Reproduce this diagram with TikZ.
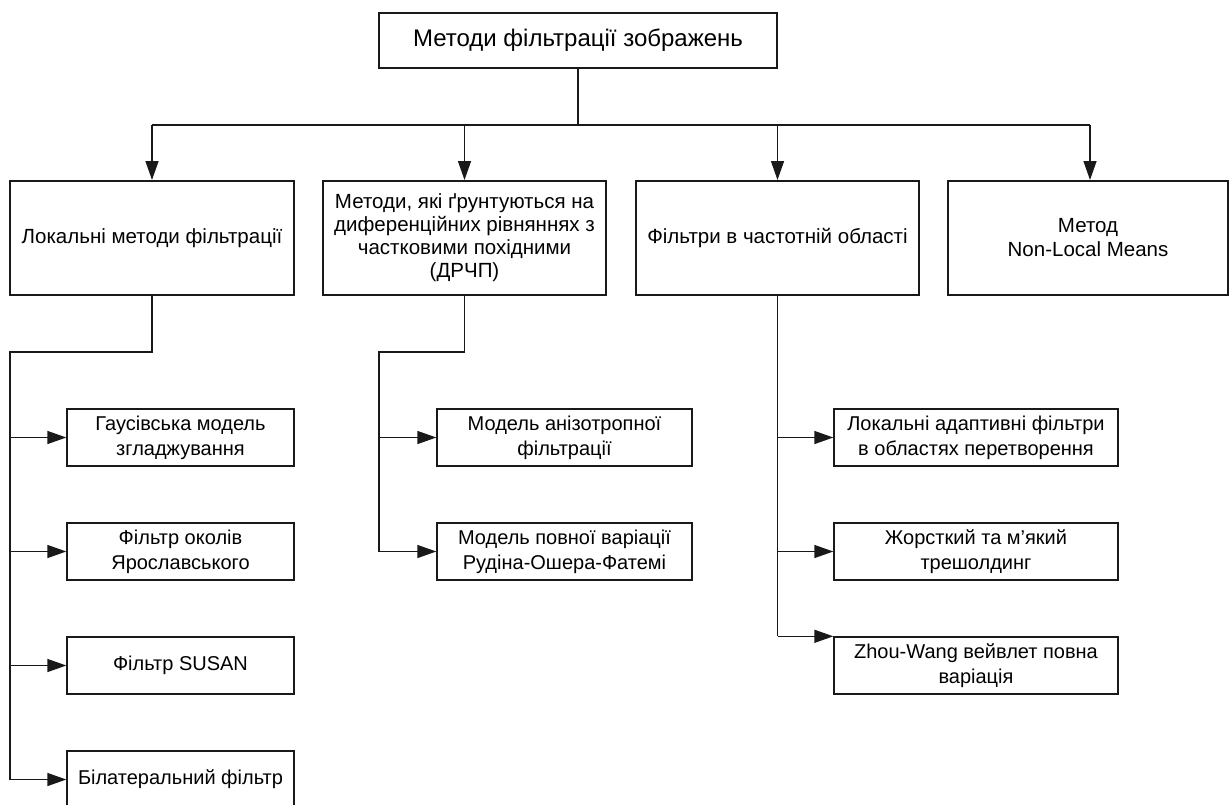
\documentclass[tikz,border=0pt]{standalone}
\usepackage{fontspec}
\setmainfont{Liberation Sans}
\usetikzlibrary{arrows.meta}
\begin{document}
\begin{tikzpicture}[x=1pt,y=-1pt,
  every node/.style={inner sep=0pt, align=center, text=black},
  topbox/.style={draw=black!90, line width=2pt, minimum width=398pt, minimum height=55pt, font=\fontsize{24}{28}\selectfont},
  mainbox/.style={draw=black!90, line width=2pt, minimum height=114pt, font=\fontsize{20.5}{24}\selectfont},
  subbox/.style={draw=black!90, line width=1.4pt, minimum height=57pt, font=\fontsize{20}{25}\selectfont},
  conn/.style={draw=black!90, line width=1.4pt},
  arr/.style={-{Triangle[length=19pt,width=13pt]}}
]
\clip (0,0) rectangle (1230,804);
\fill[white] (0,0) rectangle (1230,804);

% top
\node[topbox] (top) at (578,40.5) {Методи фільтрації зображень};

% level 1
\node[mainbox, minimum width=284pt] (l1) at (152,238) {Локальні методи фільтрації};
\node[mainbox, minimum width=283pt, font=\fontsize{20.5}{23}\selectfont] (l2) at (464.5,238) {Методи, які ґрунтуються на\\диференційних рівняннях з\\частковими похідними\\(ДРЧП)};
\node[mainbox, minimum width=283pt] (l3) at (777.5,238) {Фільтри в частотній області};
\node[mainbox, minimum width=280pt] (l4) at (1088,238) {Метод\\Non-Local Means};

% left children
\node[subbox, minimum width=227pt] (a1) at (180.5,437.5) {Гаусівська модель\\згладжування};
\node[subbox, minimum width=227pt] (a2) at (180.5,551.5) {Фільтр околів\\Ярославського};
\node[subbox, minimum width=227pt] (a3) at (180.5,665.5) {Фільтр SUSAN};
\node[subbox, minimum width=227pt] (a4) at (180.5,779.5) {Білатеральний фільтр};

% middle children
\node[subbox, minimum width=255pt] (m1) at (564.5,437.5) {Модель анізотропної\\фільтрації};
\node[subbox, minimum width=255pt] (m2) at (564.5,551.5) {Модель повної варіації\\Рудіна-Ошера-Фатемі};

% right children
\node[subbox, minimum width=284pt] (r1) at (976,437.5) {Локальні адаптивні фільтри\\в областях перетворення};
\node[subbox, minimum width=284pt] (r2) at (976,551.5) {Жорсткий та м’який\\трешолдинг};
\node[subbox, minimum width=284pt] (r3) at (976,665.5) {Zhou-Wang вейвлет повна\\варіація};

% bus
\coordinate (busL) at (152,125);
\coordinate (busR) at (1090,125);
\draw[conn] (top.south) -- (top.south |- busL);
\draw[conn] (busL) -- (busR);
\draw[conn,arr] (busL) -- (l1.north);
\draw[conn,arr] (l2.north |- busL) -- (l2.north);
\draw[conn,arr] (l3.north |- busL) -- (l3.north);
\draw[conn,arr] (busR) -- (busR |- l4.north);

% left branch
\coordinate (kL) at (10,352);
\draw[conn] (l1.south) |- (kL) -- (kL |- a4.west);
\foreach \n in {a1,a2,a3,a4} \draw[conn,arr] (kL |- \n.west) -- (\n.west);

% middle branch
\coordinate (kM) at (379,352);
\draw[conn] (l2.south) |- (kM) -- (kM |- m2.west);
\foreach \n in {m1,m2} \draw[conn,arr] (kM |- \n.west) -- (\n.west);

% right branch
\draw[conn] (l3.south) -- (l3.south |- r3.north west);
\draw[conn,arr] (l3.south |- r1.west) -- (r1.west);
\draw[conn,arr] (l3.south |- r2.west) -- (r2.west);
\draw[conn,arr] (l3.south |- r3.north west) -- (r3.north west);
\end{tikzpicture}
\end{document}
